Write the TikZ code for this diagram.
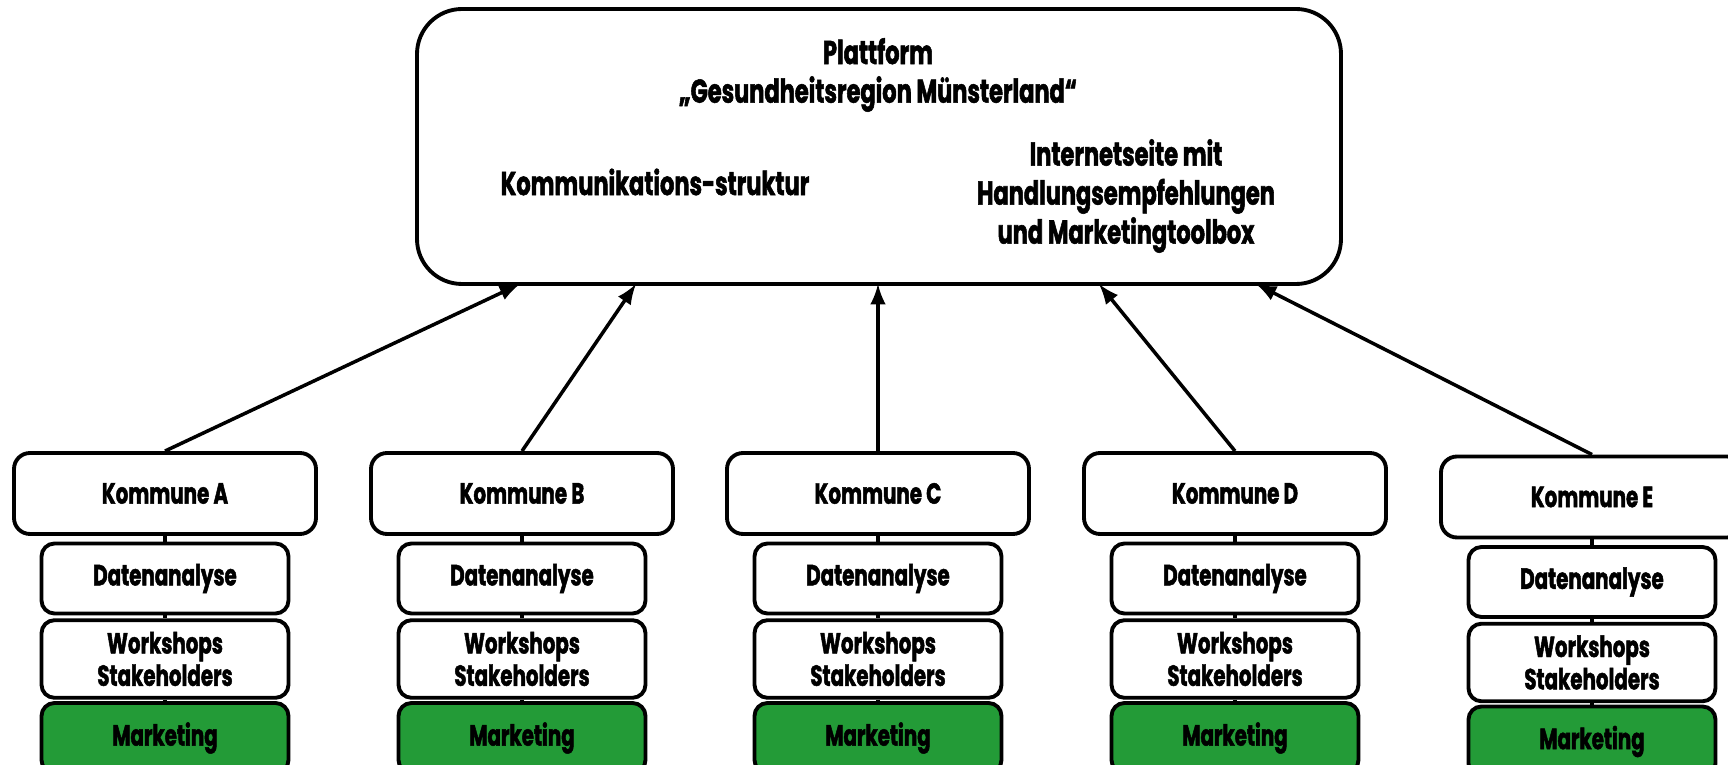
\documentclass[tikz,border=0pt]{standalone}
\usepackage{fontspec}
\setmainfont{Poppins}[FakeStretch=0.68, BoldFeatures={FakeBold=1.6}]
\usepackage{xcolor}
\definecolor{mgreen}{RGB}{35,155,55}

\begin{document}
\begin{tikzpicture}[bigbox/.style={rectangle, draw, rounded corners=0.45cm, line width=1.1pt, minimum width=9.24cm, minimum height=2.75cm},
  kbox/.style={rectangle, draw, rounded corners=0.16cm, line width=1.1pt, fill=white, minimum width=3.02cm, minimum height=0.81cm, font=\bfseries\fontsize{8.3}{9}\selectfont},
  subbox/.style={rectangle, draw, rounded corners=0.13cm, line width=1.1pt, fill=white, minimum width=2.47cm, minimum height=0.70cm, align=center, font=\bfseries\fontsize{8.3}{9.2}\selectfont},
  mbox/.style={subbox, fill=mgreen},
  txt/.style={align=center, font=\bfseries\fontsize{9.4}{11}\selectfont},
  link/.style={line width=1.1pt},
  arr/.style={line width=1pt, -latex}]
\useasboundingbox (0,0) rectangle (17.28,7.65);

% platform
\node[bigbox] (plat) at (8.79,6.185) {};
\node[txt] (titel) at (8.78,6.90) {Plattform\\„Gesundheitsregion Münsterland“};
\node[txt] (komm) at (6.55,5.83) {Kommunikations-struktur};
\node[txt, font=\bfseries\fontsize{9.4}{11.1}\selectfont] (inet) at (11.26,5.69) {Internetseite mit\\Handlungsempfehlungen\\und Marketingtoolbox};
\coordinate (pa) at (5.20,4.81);
\coordinate (pb) at (6.36,4.81);
\coordinate (pc) at (8.78,4.81);
\coordinate (pd) at (10.99,4.81);
\coordinate (pe) at (12.56,4.81);

% Kommune A
\node[kbox] (ka) at (1.65,2.715) {Kommune A};
\node[subbox] (da) at (1.65,1.865) {Datenanalyse};
\node[subbox] (wa) at (1.65,1.06) {Workshops\\Stakeholders};
\node[mbox] (ma) at (1.65,0.27) {Marketing};
% Kommune B
\node[kbox] (kb) at (5.22,2.715) {Kommune B};
\node[subbox] (db) at (5.22,1.865) {Datenanalyse};
\node[subbox] (wb) at (5.22,1.06) {Workshops\\Stakeholders};
\node[mbox] (mb) at (5.22,0.27) {Marketing};
% Kommune C
\node[kbox] (kc) at (8.78,2.715) {Kommune C};
\node[subbox] (dc) at (8.78,1.865) {Datenanalyse};
\node[subbox] (wc) at (8.78,1.06) {Workshops\\Stakeholders};
\node[mbox] (mc) at (8.78,0.27) {Marketing};
% Kommune D
\node[kbox] (kd) at (12.35,2.715) {Kommune D};
\node[subbox] (dd) at (12.35,1.865) {Datenanalyse};
\node[subbox] (wd) at (12.35,1.06) {Workshops\\Stakeholders};
\node[mbox] (md) at (12.35,0.27) {Marketing};
% Kommune E
\node[kbox] (ke) at (15.92,2.68) {Kommune E};
\node[subbox] (de) at (15.92,1.83) {Datenanalyse};
\node[subbox] (we) at (15.92,1.025) {Workshops\\Stakeholders};
\node[mbox] (me) at (15.92,0.235) {Marketing};

% links
\draw[link] (ka) -- (da) (da) -- (wa) (wa) -- (ma);
\draw[link] (kb) -- (db) (db) -- (wb) (wb) -- (mb);
\draw[link] (kc) -- (dc) (dc) -- (wc) (wc) -- (mc);
\draw[link] (kd) -- (dd) (dd) -- (wd) (wd) -- (md);
\draw[link] (ke) -- (de) (de) -- (we) (we) -- (me);

% arrows
\draw[arr] (ka.north) -- (pa);
\draw[arr] (kb.north) -- (pb);
\draw[arr] (kc.north) -- (pc);
\draw[arr] (kd.north) -- (pd);
\draw[arr] (ke.north) -- (pe);
\end{tikzpicture}
\end{document}
